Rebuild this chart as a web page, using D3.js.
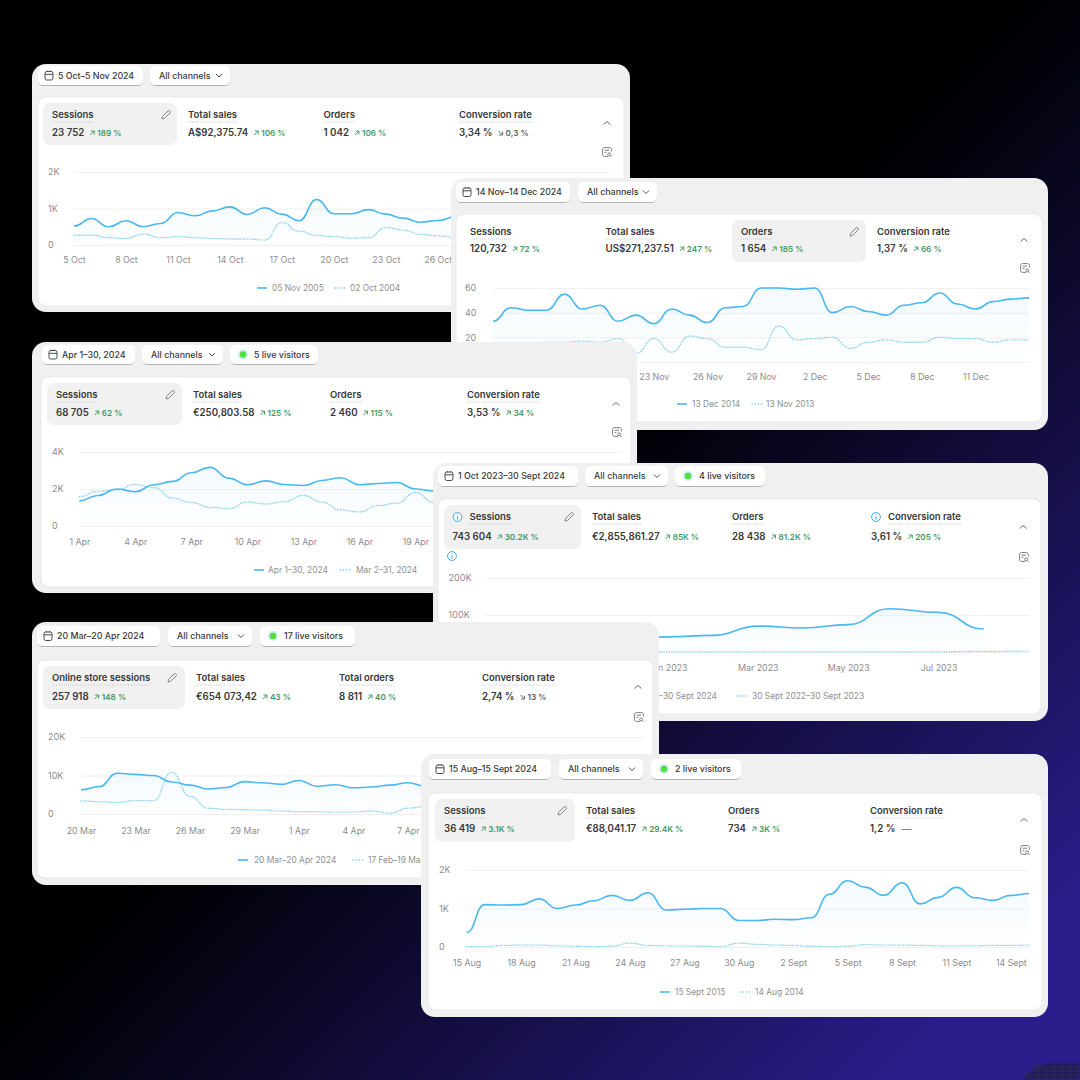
<!DOCTYPE html>
<html>
<head>
<meta charset="utf-8">
<script src="https://cdn.jsdelivr.net/npm/d3@7"></script>
<style>
  html, body { margin: 0; padding: 0; background: #000; }
  svg { display: block; font-family: Inter, "Noto Sans", sans-serif; }
</style>
</head>
<body>
<div id="viz"></div>
<script>
// values, one value per day unless noted
const octCurrent = [520, 725, 500, 665, 500, 590, 890, 800, 935, 1045, 835, 1020, 845, 665, 1245, 855, 855, 970, 845, 735, 625, 670, 770];
const octPrevious = [270, 270, 200, 180, 300, 200, 230, 200, 180, 165, 165, 135, 610, 380, 265, 230, 190, 200, 480, 410, 290, 255, 210];
const octTicks = ["5 Oct", "8 Oct", "11 Oct", "14 Oct", "17 Oct", "20 Oct", "23 Oct", "26 Oct"];

const novCurrent = [33, 44, 42, 42, 55, 43, 46, 33, 38, 31, 43, 38, 32, 44, 45, 60, 60, 59, 60, 40, 45, 41, 38, 46, 48, 56, 47, 43, 49, 51, 52];
const novPrevious = [14, 15, 15, 16, 16, 17, 16, 19, 7, 19, 8, 21, 19, 12, 12, 10, 29, 18, 19, 20, 11, 16, 18, 16, 16, 20, 19, 19, 16, 18, 18];
const novTicks = ["14 Nov", "17 Nov", "20 Nov", "23 Nov", "26 Nov", "29 Nov", "2 Dec", "5 Dec", "8 Dec", "11 Dec"];

const aprCurrent = [1360, 1650, 2000, 1850, 2230, 2410, 2880, 3170, 2590, 2230, 2440, 2240, 2190, 2460, 2610, 2230, 2300, 2350, 2000, 1900];
const aprPrevious = [1590, 1880, 1950, 2240, 2080, 1500, 1270, 1010, 940, 1290, 1190, 1320, 1650, 1290, 870, 760, 1100, 1230, 1810, 1270];
const aprTicks = ["1 Apr", "4 Apr", "7 Apr", "10 Apr", "13 Apr", "16 Apr", "19 Apr"];

// this one runs on months, samples are not evenly spaced
const yearMonths = [0, 1, 2, 3, 4, 5, 6, 7, 8, 8.9, 10, 11];
const yearCurrent = [30, 32, 35, 38, 41, 45, 70, 65, 74, 117, 107, 62];
const yearPreviousMonths = [0, 2, 4, 6, 8, 10, 11, 12];
const yearPrevious = [0.5, 0.5, 0.5, 0.5, 0.5, 0.5, 1.5, 2.5];
const yearTicks = ["Sept 2022", "Nov 2022", "Jan 2023", "Mar 2023", "May 2023", "Jul 2023"];

const marCurrent = [6300, 7100, 10600, 10300, 10000, 8300, 7500, 6500, 6900, 8400, 8100, 7700, 8700, 7200, 7600, 6800, 7000, 7500, 8100, 7200];
const marPrevious = [3400, 3200, 3000, 3500, 3500, 10800, 4600, 1500, 1200, 1100, 1000, 800, 600, 600, 500, 500, 800, 200, 1500, 2000];
const marTicks = ["20 Mar", "23 Mar", "26 Mar", "29 Mar", "1 Apr", "4 Apr", "7 Apr"];

const augCurrent = [380, 1100, 1090, 1100, 1250, 1000, 1090, 1200, 1340, 1210, 1410, 960, 980, 1000, 1000, 690, 690, 720, 710, 760, 1370, 1720, 1550, 1340, 1670, 1120, 1290, 1550, 1280, 1210, 1340, 1390];
const augPrevious = [10, 10, 40, 50, 50, 30, 20, 10, 20, 100, 40, 30, 30, 20, 10, 100, 70, 50, 40, 20, 10, 20, 60, 50, 50, 40, 30, 30, 30, 40, 40, 50];
const augTicks = ["15 Aug", "18 Aug", "21 Aug", "24 Aug", "27 Aug", "30 Aug", "2 Sept", "5 Sept", "8 Sept", "11 Sept", "14 Sept"];

const octMetrics = ["Sessions", "Total sales", "Orders", "Conversion rate"];
const octTotals = ["23 752", "A$92,375.74", "1 042", "3,34 %"];
const octDeltas = ["189 %", "106 %", "106 %", "0,3 %"];
const novTotals = ["120,732", "US$271,237.51", "1 654", "1,37 %"];
const novDeltas = ["72 %", "247 %", "185 %", "66 %"];
const aprTotals = ["68 705", "€250,803.58", "2 460", "3,53 %"];
const aprDeltas = ["62 %", "125 %", "115 %", "34 %"];
const yearTotals = ["743 604", "€2,855,861.27", "28 438", "3,61 %"];
const yearDeltas = ["30.2K %", "85K %", "81.2K %", "205 %"];
const marMetrics = ["Online store sessions", "Total sales", "Total orders", "Conversion rate"];
const marTotals = ["257 918", "€654 073,42", "8 811", "2,74 %"];
const marDeltas = ["148 %", "43 %", "40 %", "13 %"];
const augTotals = ["36 419", "€88,041.17", "734", "1,2 %"];
const augDeltas = ["3.1K %", "29.4K %", "3K %", "—"];

const COLORS = {
  card: "#f0f0f0", white: "#ffffff", text: "#383838", muted: "#8c8c8c", legend: "#8f8f8f",
  grid: "#ececec", line: "#4ab8f0", dotted: "#83cff5", up: "#3f9a63", down: "#616161",
  live: "#4fe23f", halo: "#cfe9fb", info: "#3fa9ee"
};

// layouts, all in page pixels
const panels = [
  {
    card: [32, 64, 598, 248], inner: [38, 97, 586, 209], date: "5 Oct–5 Nov 2024", dateBox: [38, 66, 105], allBox: [150, 80], h: 19,
    selected: [43, 103, 134, 42], pencil: [166, 115], metricsX: [52, 188, 323.5, 459], labelY: 115, valueY: 133,
    metrics: octMetrics, totals: octTotals, deltas: octDeltas, dirs: ["up", "up", "up", "down"],
    chevron: [607, 123], report: [607, 152],
    plot: [74, 611, 172, 245], maxDay: 31, yMax: 2000, yTicks: [0, 1000, 2000], yLabels: ["0", "1K", "2K"], yLabelX: 48,
    current: octCurrent, previous: octPrevious, ticks: octTicks, step: 3, tickGap: 15,
    legend: [288, 257, 272, "05 Nov 2005", 335, 350, "02 Oct 2004"]
  },
  {
    card: [451, 178, 597, 252], inner: [456, 214, 586, 208], date: "14 Nov–14 Dec 2024", dateBox: [456, 182, 114], allBox: [578, 79], h: 20,
    selected: [732, 220, 134, 42], pencil: [854, 232], metricsX: [470, 605.5, 741, 877], labelY: 232, valueY: 249,
    metrics: octMetrics, totals: novTotals, deltas: novDeltas, dirs: ["up", "up", "up", "up"],
    chevron: [1024, 240], report: [1025, 268],
    plot: [493, 1029, 288, 362], maxDay: 30, yMax: 60, yTicks: [0, 20, 40, 60], yLabels: ["0", "20", "40", "60"], yLabelX: 465,
    current: novCurrent, previous: novPrevious, ticks: novTicks, step: 3, tickGap: 15,
    legend: [404, 677, 692, "13 Dec 2014", 752, 766, "13 Nov 2013"]
  },
  {
    card: [32, 342, 605, 251], inner: [41, 377, 590, 210], date: "Apr 1–30, 2024", dateBox: [42, 345, 93], allBox: [142, 81], liveBox: [230, 88], live: "5 live visitors", h: 19,
    selected: [47, 383, 135, 42], pencil: [170, 395], metricsX: [56, 193, 330, 467], labelY: 395, valueY: 413,
    metrics: octMetrics, totals: aprTotals, deltas: aprDeltas, dirs: ["up", "up", "up", "up"],
    chevron: [616, 404], report: [617, 432],
    plot: [79.3, 620.7, 452, 526], maxDay: 29, yMax: 4000, yTicks: [0, 2000, 4000], yLabels: ["0", "2K", "4K"], yLabelX: 52,
    current: aprCurrent, previous: aprPrevious, ticks: aprTicks, step: 3, tickGap: 16,
    legend: [570, 254, 268, "Apr 1–30, 2024", 340, 356, "Mar 2–31, 2024"]
  },
  {
    card: [433, 463, 615, 258], inner: [438, 499, 603, 215], date: "1 Oct 2023–30 Sept 2024", dateBox: [438, 466, 140], allBox: [585, 83], liveBox: [675, 90], live: "4 live visitors", h: 20,
    selected: [444, 505, 137, 44], pencil: [569, 517], metricsX: [452.5, 592, 732, 871], labelY: 517, valueY: 537,
    metrics: octMetrics, totals: yearTotals, deltas: yearDeltas, dirs: ["up", "up", "up", "up"], infoAt: [0, 3], infoExtra: [452, 556],
    chevron: [1023, 527], report: [1024, 557],
    plot: [486.5, 1029, 578, 652], maxDay: 12, yMax: 200, yTicks: [0, 100, 200], yLabels: ["0", "100K", "200K"], yLabelX: 448.6,
    current: yearCurrent, currentX: yearMonths, previous: yearPrevious, previousX: yearPreviousMonths, ticks: yearTicks, step: 2, tickGap: 16,
    legend: [696, 601, 616, "1 Oct 2023–30 Sept 2024", 737, 752, "30 Sept 2022–30 Sept 2023"]
  },
  {
    card: [32, 622, 627, 263], inner: [37, 660, 616, 218], date: "20 Mar–20 Apr 2024", dateBox: [37, 626, 123], allBox: [168, 84], liveBox: [260, 95], live: "17 live visitors", h: 20,
    selected: [43, 666, 142, 43], pencil: [172, 678], metricsX: [52, 196, 339, 482], labelY: 678, valueY: 697,
    metrics: marMetrics, totals: marTotals, deltas: marDeltas, dirs: ["up", "up", "up", "down"],
    chevron: [638, 687], report: [639, 717],
    plot: [81, 644, 737, 814], maxDay: 31, yMax: 20000, yTicks: [0, 10000, 20000], yLabels: ["0", "10K", "20K"], yLabelX: 48,
    current: marCurrent, previous: marPrevious, ticks: marTicks, step: 3, tickGap: 17,
    legend: [860, 238, 254, "20 Mar–20 Apr 2024", 353, 368, "17 Feb–19 Mar 2024"]
  },
  {
    card: [421, 754, 627, 263], inner: [428, 793, 614, 217], date: "15 Aug–15 Sept 2024", dateBox: [429, 759, 122], allBox: [559, 84], liveBox: [651, 90], live: "2 live visitors", h: 20,
    selected: [435, 799, 140, 43], pencil: [562, 811], metricsX: [444, 586, 728, 870], labelY: 811, valueY: 829,
    metrics: octMetrics, totals: augTotals, deltas: augDeltas, dirs: ["up", "up", "up", "flat"],
    chevron: [1024, 820], report: [1025, 850],
    plot: [466.6, 1029, 870, 947], maxDay: 31, yMax: 2000, yTicks: [0, 1000, 2000], yLabels: ["0", "1K", "2K"], yLabelX: 439,
    current: augCurrent, previous: augPrevious, ticks: augTicks, step: 3, tickGap: 16,
    legend: [992, 660, 675, "15 Sept 2015", 740, 755, "14 Aug 2014"]
  }
];

const svg = d3.select("#viz").append("svg")
  .attr("width", 1080)
  .attr("height", 1080)
  .attr("viewBox", "0 0 1080 1080");

const defs = svg.append("defs");

const bg = defs.append("linearGradient")
  .attr("id", "bg")
  .attr("gradientUnits", "userSpaceOnUse")
  .attr("x1", 500).attr("y1", 500).attr("x2", 1000).attr("y2", 1000);
bg.append("stop").attr("offset", "0%").attr("stop-color", "#000000");
bg.append("stop").attr("offset", "12%").attr("stop-color", "#03020c");
bg.append("stop").attr("offset", "100%").attr("stop-color", "#2a1e8c");

const fade = defs.append("linearGradient")
  .attr("id", "fade")
  .attr("x1", 0).attr("y1", 0).attr("x2", 0).attr("y2", 1);
fade.append("stop").attr("offset", "0%").attr("stop-color", "#d4ebf8").attr("stop-opacity", 0.3);
fade.append("stop").attr("offset", "100%").attr("stop-color", "#d4ebf8").attr("stop-opacity", 0);

const softShadow = defs.append("filter").attr("id", "btn")
  .attr("x", "-10%").attr("y", "-20%").attr("width", "120%").attr("height", "150%");
softShadow.append("feDropShadow")
  .attr("dx", 0).attr("dy", 1).attr("stdDeviation", 0.7)
  .attr("flood-color", "#000").attr("flood-opacity", 0.25);

const dots = defs.append("pattern").attr("id", "dots")
  .attr("width", 2).attr("height", 2).attr("patternUnits", "userSpaceOnUse");
dots.append("rect").attr("width", 1).attr("height", 1).attr("fill", "#14123a");

svg.append("rect").attr("width", 1080).attr("height", 1080).attr("fill", "url(#bg)");
svg.append("ellipse")
  .attr("cx", 1062).attr("cy", 1096).attr("rx", 44).attr("ry", 35)
  .attr("fill", "url(#dots)");

function calendarIcon(g, x, y) {
  const ic = g.append("g").attr("transform", `translate(${x},${y})`)
    .attr("fill", "none").attr("stroke", "#4a4a4a").attr("stroke-width", 1);
  ic.append("rect").attr("x", -4).attr("y", -4).attr("width", 8).attr("height", 8.5).attr("rx", 1.8);
  ic.append("path").attr("d", "M-4,-1.2H4M-1.8,-5V-3.6M1.8,-5V-3.6");
}

function chevronDown(g, x, y) {
  g.append("path")
    .attr("d", `M${x - 3},${y - 1.5}L${x},${y + 1.5}L${x + 3},${y - 1.5}`)
    .attr("fill", "none").attr("stroke", "#4a4a4a").attr("stroke-width", 1);
}

function pencilIcon(g, x, y) {
  g.append("path")
    .attr("transform", `translate(${x},${y})`)
    .attr("d", "M-4,4L-3.4,1.4L2,-4C2.6,-4.6 3.4,-4.6 4,-4C4.6,-3.4 4.6,-2.6 4,-2L-1.4,3.4Z")
    .attr("fill", "none").attr("stroke", "#7a7a7a").attr("stroke-width", 0.9);
}

function reportIcon(g, x, y) {
  const ic = g.append("g").attr("transform", `translate(${x},${y})`)
    .attr("fill", "none").attr("stroke", "#7d7d7d").attr("stroke-width", 1);
  ic.append("path").attr("d", "M1,4.4H-2.5C-3.6,4.4 -4.4,3.6 -4.4,2.5V-2.5C-4.4,-3.6 -3.6,-4.4 -2.5,-4.4H2.5C3.6,-4.4 4.4,-3.6 4.4,-2.5V-0.5");
  ic.append("path").attr("d", "M-2.4,-1.8H2M-2.4,0.4H-0.6");
  ic.append("circle").attr("cx", 2.2).attr("cy", 2.4).attr("r", 1.5);
  ic.append("path").attr("d", "M3.4,3.6L4.6,4.8");
}

function infoIcon(g, x, y) {
  g.append("circle").attr("cx", x).attr("cy", y).attr("r", 4.4)
    .attr("fill", "#fff").attr("stroke", COLORS.info).attr("stroke-width", 1);
  g.append("path").attr("d", `M${x},${y - 0.6}V${y + 2.4}M${x},${y - 2.6}V${y - 1.7}`)
    .attr("stroke", COLORS.info).attr("stroke-width", 1.1);
}

function button(g, x, y, w, h) {
  g.append("rect")
    .attr("x", x).attr("y", y).attr("width", w).attr("height", h).attr("rx", 5.5)
    .attr("fill", COLORS.white)
    .attr("filter", "url(#btn)");
}

function drawPanel(p) {
  const g = svg.append("g");
  const [cx, cy, cw, ch] = p.card;
  const [ix, iy, iw, ih] = p.inner;

  g.append("rect").attr("x", cx).attr("y", cy).attr("width", cw).attr("height", ch)
    .attr("rx", 14).attr("fill", COLORS.card);
  g.append("rect").attr("x", ix).attr("y", iy).attr("width", iw).attr("height", ih)
    .attr("rx", 8).attr("fill", COLORS.white)
    .attr("stroke", "#e6e6e6").attr("stroke-width", 0.8);

  // top row of buttons
  const [dx, dy, dw] = p.dateBox;
  const midY = dy + p.h / 2;
  button(g, dx, dy, dw, p.h);
  calendarIcon(g, dx + 11, midY);
  g.append("text").attr("x", dx + 20).attr("y", midY).attr("dy", ".35em")
    .attr("fill", COLORS.text).style("font-size", "8.8px").style("font-weight", 500)
    .text(p.date);

  button(g, p.allBox[0], dy, p.allBox[1], p.h);
  g.append("text").attr("x", p.allBox[0] + 9).attr("y", midY).attr("dy", ".35em")
    .attr("fill", COLORS.text).style("font-size", "8.9px").style("font-weight", 500)
    .text("All channels");
  chevronDown(g, p.allBox[0] + p.allBox[1] - 11, midY);

  if (p.live) {
    button(g, p.liveBox[0], dy, p.liveBox[1], p.h);
    g.append("circle").attr("cx", p.liveBox[0] + 13).attr("cy", midY).attr("r", 5).attr("fill", COLORS.halo);
    g.append("circle").attr("cx", p.liveBox[0] + 13).attr("cy", midY).attr("r", 3.2).attr("fill", COLORS.live);
    g.append("text").attr("x", p.liveBox[0] + 24).attr("y", midY).attr("dy", ".35em")
      .attr("fill", COLORS.text).style("font-size", "8.9px").style("font-weight", 500)
      .text(p.live);
  }

  // metric row
  const [sx, sy, sw, sh] = p.selected;
  g.append("rect").attr("x", sx).attr("y", sy).attr("width", sw).attr("height", sh)
    .attr("rx", 7).attr("fill", "#f1f1f1");
  pencilIcon(g, p.pencil[0], p.pencil[1]);

  p.metrics.forEach((name, i) => {
    const x = p.metricsX[i];
    const hasInfo = p.infoAt && p.infoAt.includes(i);
    const labelX = hasInfo ? x + 17 : x;
    if (hasInfo) infoIcon(g, x + 5, p.labelY);

    const label = g.append("text").attr("x", labelX).attr("y", p.labelY).attr("dy", ".35em")
      .attr("fill", COLORS.text).style("font-size", "9.5px").style("font-weight", 600)
      .text(name);
    const lw = label.node().getComputedTextLength();
    g.append("line")
      .attr("x1", labelX).attr("x2", labelX + lw)
      .attr("y1", p.labelY + 7).attr("y2", p.labelY + 7)
      .attr("stroke", "#b9b9b9").attr("stroke-width", 0.7).attr("stroke-dasharray", "1 1");

    const value = g.append("text").attr("x", x).attr("y", p.valueY).attr("dy", ".35em")
      .attr("fill", COLORS.text).style("font-size", "9.7px").style("font-weight", 600)
      .text(p.totals[i]);
    const vw = value.node().getComputedTextLength();

    const dir = p.dirs[i];
    const ax = x + vw + 6;
    const color = dir === "up" ? COLORS.up : COLORS.down;
    if (dir === "flat") {
      g.append("text").attr("x", ax).attr("y", p.valueY).attr("dy", ".35em")
        .attr("fill", COLORS.down).style("font-size", "10px").text(p.deltas[i]);
    } else {
      const arrow = dir === "up"
        ? `M${ax},${p.valueY + 2}L${ax + 3.6},${p.valueY - 1.6}M${ax + 0.6},${p.valueY - 2}H${ax + 4}V${p.valueY + 1.4}`
        : `M${ax},${p.valueY - 2}L${ax + 3.6},${p.valueY + 1.6}M${ax + 0.6},${p.valueY + 2}H${ax + 4}V${p.valueY - 1.4}`;
      g.append("path").attr("d", arrow).attr("fill", "none").attr("stroke", color).attr("stroke-width", 1);
      g.append("text").attr("x", ax + 7).attr("y", p.valueY).attr("dy", ".35em")
        .attr("fill", color).style("font-size", "8.2px").style("font-weight", 600)
        .text(p.deltas[i]);
    }
  });

  g.append("path")
    .attr("d", `M${p.chevron[0] - 3.5},${p.chevron[1] + 1.5}L${p.chevron[0]},${p.chevron[1] - 1.5}L${p.chevron[0] + 3.5},${p.chevron[1] + 1.5}`)
    .attr("fill", "none").attr("stroke", "#6b6b6b").attr("stroke-width", 1);
  reportIcon(g, p.report[0], p.report[1]);
  if (p.infoExtra) infoIcon(g, p.infoExtra[0], p.infoExtra[1]);

  // chart
  const [px0, px1, pyTop, pyZero] = p.plot;
  const x = d3.scaleLinear().domain([0, p.maxDay]).range([px0, px1]);
  const y = d3.scaleLinear().domain([0, p.yMax]).range([pyZero, pyTop]);

  const yAxis = g.append("g")
    .attr("transform", `translate(${px0},0)`)
    .call(d3.axisLeft(y)
      .tickValues(p.yTicks)
      .tickSize(-(px1 - px0))
      .tickFormat((d, i) => p.yLabels[i]));
  yAxis.select(".domain").remove();
  yAxis.selectAll("line").attr("stroke", COLORS.grid).attr("stroke-width", 0.8);
  yAxis.selectAll("text")
    .attr("x", p.yLabelX - px0)
    .attr("text-anchor", "start")
    .attr("fill", COLORS.muted)
    .style("font-family", "Inter, sans-serif")
    .style("font-size", "9px");

  const xAxis = g.append("g")
    .attr("transform", `translate(0,${pyZero})`)
    .call(d3.axisBottom(x)
      .tickValues(p.ticks.map((d, i) => i * p.step))
      .tickSize(0)
      .tickPadding(p.tickGap - 2.8)
      .tickFormat((d, i) => p.ticks[i]));
  xAxis.select(".domain").remove();
  xAxis.selectAll("text")
    .attr("fill", COLORS.muted)
    .style("font-family", "Inter, sans-serif")
    .style("font-size", "8.8px");

  const curX = p.currentX || p.current.map((d, i) => i);
  const prevX = p.previousX || p.previous.map((d, i) => i);

  const area = d3.area()
    .x((d, i) => x(curX[i]))
    .y0(pyZero)
    .y1(d => y(d))
    .curve(d3.curveBumpX);
  const line = d3.line()
    .x((d, i) => x(curX[i]))
    .y(d => y(d))
    .curve(d3.curveBumpX);
  const prevLine = d3.line()
    .x((d, i) => x(prevX[i]))
    .y(d => y(d))
    .curve(d3.curveBumpX);

  g.append("path").datum(p.current).attr("d", area).attr("fill", "url(#fade)");
  g.append("path").datum(p.previous).attr("d", prevLine)
    .attr("fill", "none").attr("stroke", COLORS.dotted).attr("stroke-width", 1.3)
    .attr("stroke-linecap", "round").attr("stroke-dasharray", "0.5 2");
  g.append("path").datum(p.current).attr("d", line)
    .attr("fill", "none").attr("stroke", COLORS.line).attr("stroke-width", 1.6);

  // legend
  const [ly, l1, t1, name1, l2, t2, name2] = p.legend;
  g.append("line").attr("x1", l1).attr("x2", l1 + 10).attr("y1", ly).attr("y2", ly)
    .attr("stroke", COLORS.line).attr("stroke-width", 1.6);
  g.append("text").attr("x", t1).attr("y", ly).attr("dy", ".35em")
    .attr("fill", COLORS.legend).style("font-size", "8.4px").text(name1);
  g.append("line").attr("x1", l2).attr("x2", l2 + 10).attr("y1", ly).attr("y2", ly)
    .attr("stroke", COLORS.dotted).attr("stroke-width", 1.3)
    .attr("stroke-linecap", "round").attr("stroke-dasharray", "0.5 2.6");
  g.append("text").attr("x", t2).attr("y", ly).attr("dy", ".35em")
    .attr("fill", COLORS.legend).style("font-size", "8.4px").text(name2);
}

panels.forEach(drawPanel);
</script>
</body>
</html>
